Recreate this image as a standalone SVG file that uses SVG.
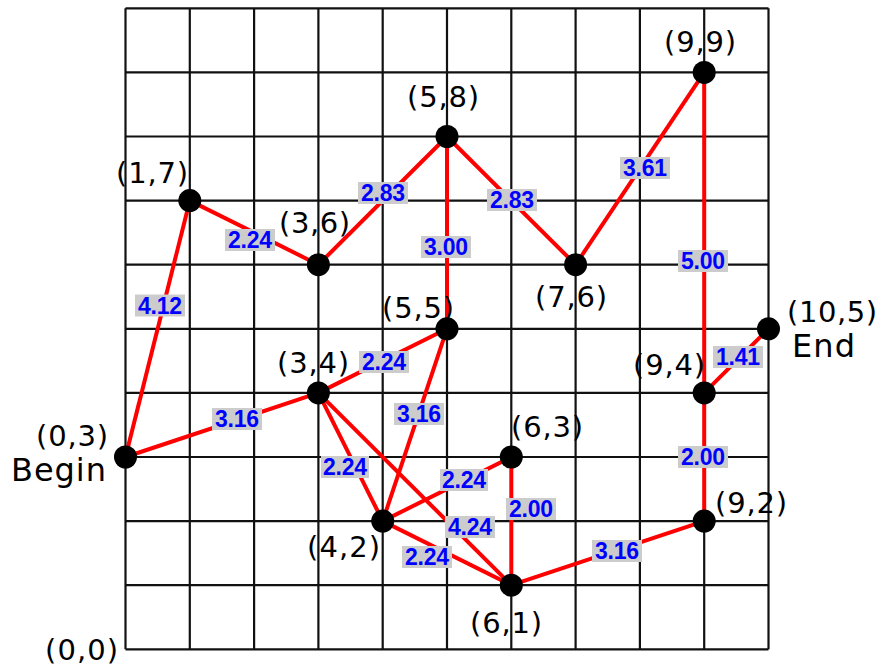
<svg xmlns="http://www.w3.org/2000/svg" width="881" height="668" viewBox="0 0 881 668">
<style>
.grid line{stroke:#111;stroke-width:2.2}
.edge{stroke:#ff0000;stroke-width:4;fill:none}
.lb rect{fill:#cccccc}
.lb text{font-family:"Liberation Sans",Arial,sans-serif;font-weight:bold;font-size:23px;fill:#0000ff;text-anchor:middle}
.node circle{fill:#000}
.node text{font-family:"DejaVu Sans",Verdana,sans-serif;font-size:29px;fill:#000}
.node text.big{font-size:32px}
</style>
<rect width="881" height="668" fill="#fff"/>
<g class="grid" id="grid">
<line x1="125.5" y1="8.3" x2="125.5" y2="649.3"/>
<line x1="189.8" y1="8.3" x2="189.8" y2="649.3"/>
<line x1="254.1" y1="8.3" x2="254.1" y2="649.3"/>
<line x1="318.4" y1="8.3" x2="318.4" y2="649.3"/>
<line x1="382.7" y1="8.3" x2="382.7" y2="649.3"/>
<line x1="447" y1="8.3" x2="447" y2="649.3"/>
<line x1="511.3" y1="8.3" x2="511.3" y2="649.3"/>
<line x1="575.6" y1="8.3" x2="575.6" y2="649.3"/>
<line x1="639.9" y1="8.3" x2="639.9" y2="649.3"/>
<line x1="704.2" y1="8.3" x2="704.2" y2="649.3"/>
<line x1="768.5" y1="8.3" x2="768.5" y2="649.3"/>
<line x1="125.5" y1="8.3" x2="768.5" y2="8.3"/>
<line x1="125.5" y1="72.4" x2="768.5" y2="72.4"/>
<line x1="125.5" y1="136.5" x2="768.5" y2="136.5"/>
<line x1="125.5" y1="200.6" x2="768.5" y2="200.6"/>
<line x1="125.5" y1="264.7" x2="768.5" y2="264.7"/>
<line x1="125.5" y1="328.8" x2="768.5" y2="328.8"/>
<line x1="125.5" y1="392.9" x2="768.5" y2="392.9"/>
<line x1="125.5" y1="457" x2="768.5" y2="457"/>
<line x1="125.5" y1="521.1" x2="768.5" y2="521.1"/>
<line x1="125.5" y1="585.2" x2="768.5" y2="585.2"/>
<line x1="125.5" y1="649.3" x2="768.5" y2="649.3"/>
</g>
<g id="connectors">
<line class="edge" x1="125.5" y1="457" x2="189.8" y2="200.6"/>
<line class="edge" x1="125.5" y1="457" x2="318.4" y2="392.9"/>
<line class="edge" x1="189.8" y1="200.6" x2="318.4" y2="264.7"/>
<line class="edge" x1="318.4" y1="264.7" x2="447" y2="136.5"/>
<line class="edge" x1="447" y1="136.5" x2="447" y2="328.8"/>
<line class="edge" x1="447" y1="136.5" x2="575.6" y2="264.7"/>
<line class="edge" x1="575.6" y1="264.7" x2="704.2" y2="72.4"/>
<line class="edge" x1="704.2" y1="72.4" x2="704.2" y2="392.9"/>
<line class="edge" x1="704.2" y1="392.9" x2="768.5" y2="328.8"/>
<line class="edge" x1="704.2" y1="392.9" x2="704.2" y2="521.1"/>
<line class="edge" x1="318.4" y1="392.9" x2="447" y2="328.8"/>
<line class="edge" x1="318.4" y1="392.9" x2="382.7" y2="521.1"/>
<line class="edge" x1="318.4" y1="392.9" x2="511.3" y2="585.2"/>
<line class="edge" x1="447" y1="328.8" x2="382.7" y2="521.1"/>
<line class="edge" x1="382.7" y1="521.1" x2="511.3" y2="457"/>
<line class="edge" x1="382.7" y1="521.1" x2="511.3" y2="585.2"/>
<line class="edge" x1="511.3" y1="457" x2="511.3" y2="585.2"/>
<line class="edge" x1="511.3" y1="585.2" x2="704.2" y2="521.1"/>
<g class="lb">
<rect x="135" y="294.5" width="50" height="22"/><text x="160" y="313.5" textLength="44">4.12</text>
<rect x="212" y="408" width="50" height="22"/><text x="237" y="427" textLength="44">3.16</text>
<rect x="225" y="229" width="50" height="22"/><text x="250" y="248" textLength="44">2.24</text>
<rect x="358" y="182" width="50" height="22"/><text x="383" y="201" textLength="44">2.83</text>
<rect x="421" y="236" width="50" height="22"/><text x="446" y="255" textLength="44">3.00</text>
<rect x="487" y="189" width="50" height="22"/><text x="512" y="208" textLength="44">2.83</text>
<rect x="620" y="157" width="50" height="22"/><text x="645" y="176" textLength="44">3.61</text>
<rect x="678" y="250" width="50" height="22"/><text x="703" y="269" textLength="44">5.00</text>
<rect x="713" y="346" width="50" height="22"/><text x="738" y="365" textLength="44">1.41</text>
<rect x="678" y="446" width="50" height="22"/><text x="703" y="465" textLength="44">2.00</text>
<rect x="592" y="540" width="50" height="22"/><text x="617" y="559" textLength="44">3.16</text>
<rect x="359" y="351" width="50" height="22"/><text x="384" y="370" textLength="44">2.24</text>
<rect x="394" y="403" width="50" height="22"/><text x="419" y="422" textLength="44">3.16</text>
<rect x="321" y="456" width="48" height="22"/><text x="345" y="475" textLength="44">2.24</text>
<rect x="440" y="469" width="48" height="22"/><text x="464" y="488" textLength="44">2.24</text>
<rect x="445" y="516" width="50" height="22"/><text x="470" y="535" textLength="44">4.24</text>
<rect x="506" y="498" width="50" height="22"/><text x="531" y="517" textLength="44">2.00</text>
<rect x="402" y="546" width="50" height="22"/><text x="427" y="565" textLength="44">2.24</text>
</g>
</g>
<g class="node" id="n0_3"><circle cx="125.5" cy="457" r="11.5"/><text x="36" y="446" textLength="72">(0,3)</text><text class="big" x="11" y="481" textLength="95">Begin</text></g>
<g class="node" id="n1_7"><circle cx="189.8" cy="200.6" r="11.5"/><text x="116" y="183" textLength="72">(1,7)</text></g>
<g class="node" id="n3_6"><circle cx="318.4" cy="264.7" r="11.5"/><text x="279" y="233" textLength="71">(3,6)</text></g>
<g class="node" id="n5_8"><circle cx="447" cy="136.5" r="11.5"/><text x="407" y="107" textLength="72">(5,8)</text></g>
<g class="node" id="n7_6"><circle cx="575.6" cy="264.7" r="11.5"/><text x="535" y="307" textLength="72">(7,6)</text></g>
<g class="node" id="n9_9"><circle cx="704.2" cy="72.4" r="11.5"/><text x="664" y="52" textLength="72">(9,9)</text></g>
<g class="node" id="n5_5"><circle cx="447" cy="328.8" r="11.5"/><text x="382" y="318" textLength="72">(5,5)</text></g>
<g class="node" id="n3_4"><circle cx="318.4" cy="392.9" r="11.5"/><text x="277" y="373" textLength="72">(3,4)</text></g>
<g class="node" id="n6_3"><circle cx="511.3" cy="457" r="11.5"/><text x="511" y="437" textLength="72">(6,3)</text></g>
<g class="node" id="n4_2"><circle cx="382.7" cy="521.1" r="11.5"/><text x="307" y="557" textLength="73">(4,2)</text></g>
<g class="node" id="n6_1"><circle cx="511.3" cy="585.2" r="11.5"/><text x="470" y="633" textLength="72">(6,1)</text></g>
<g class="node" id="n9_2"><circle cx="704.2" cy="521.1" r="11.5"/><text x="715" y="513" textLength="72">(9,2)</text></g>
<g class="node" id="n9_4"><circle cx="704.2" cy="392.9" r="11.5"/><text x="633" y="375" textLength="72">(9,4)</text></g>
<g class="node" id="n10_5"><circle cx="768.5" cy="328.8" r="11.5"/><text x="787" y="322" textLength="90">(10,5)</text><text class="big" x="792" y="357" textLength="63">End</text></g>
<g class="node" id="origin"><text x="45" y="660" textLength="73">(0,0)</text></g>
</svg>
